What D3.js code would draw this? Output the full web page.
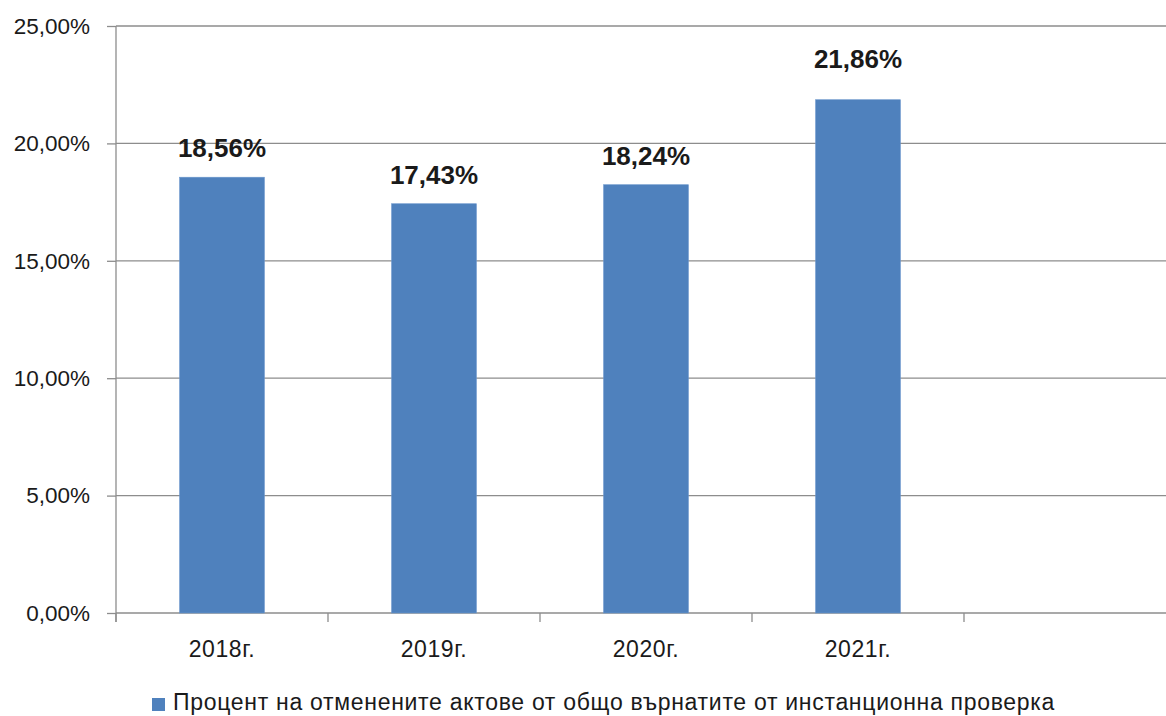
<!DOCTYPE html>
<html>
<head>
<meta charset="utf-8">
<script src="https://cdn.jsdelivr.net/npm/d3@7"></script>
<style>
  html, body { margin: 0; padding: 0; background: #ffffff; }
  svg { display: block; }
  text { font-family: "Liberation Sans", Arial, sans-serif; fill: #1a1a1a; }
</style>
</head>
<body>
<svg id="chart" width="1166" height="716"></svg>
<script>
// ---- data ----
const categories = ["2018г.", "2019г.", "2020г.", "2021г."];
const values = [0.1856, 0.1743, 0.1824, 0.2186];
const yTicks = [0, 0.05, 0.10, 0.15, 0.20, 0.25];
const seriesName = "Процент на отменените актове от общо върнатите от инстанционна проверка";

// ---- drawing ----
(function () {
const svg = d3.select("#chart");
const W = 1166, H = 716;
const pLeft = 116, pRight = 1176, pTop = 26, pBottom = 613;

const bg = d3.formatLocale({ decimal: ",", thousands: " ", grouping: [3], currency: ["", " лв."] });
const pct = bg.format(".2%");

// five slots: four years plus an empty one at the end
const slots = categories.concat([""]);
const xSlot = d3.scaleBand().domain(slots).range([pLeft, pRight]).paddingInner(0).paddingOuter(0);
const xBar = d3.scaleBand().domain(slots).range([pLeft, pRight]).paddingInner(0.6).paddingOuter(0.3);
const y = d3.scaleLinear().domain([0, 0.25]).range([pBottom, pTop]);

const gridColor = "#8d8d8d";

// gridlines
svg.append("g").selectAll("line").data(yTicks).join("line")
  .attr("x1", pLeft).attr("x2", W)
  .attr("y1", d => y(d)).attr("y2", d => y(d))
  .attr("stroke", gridColor).attr("stroke-width", 1.3);

// y axis (ticks + labels)
const yAxis = d3.axisLeft(y).tickValues(yTicks).tickSize(9).tickPadding(17).tickFormat(pct);
const gy = svg.append("g").attr("transform", `translate(${pLeft},0)`).call(yAxis);
gy.select(".domain").remove();
gy.selectAll(".tick line").attr("stroke", gridColor).attr("stroke-width", 1.3);
gy.selectAll(".tick text").attr("font-size", 22.5).attr("font-family", "Liberation Sans, Arial, sans-serif").attr("fill", "#1a1a1a");

// vertical axis line
svg.append("line").attr("x1", pLeft).attr("x2", pLeft).attr("y1", pTop).attr("y2", pBottom + 9)
  .attr("stroke", gridColor).attr("stroke-width", 1.3);

// category tick marks at slot boundaries
const boundaries = slots.map(s => xSlot(s)).concat([pRight]);
svg.append("g").selectAll("line").data(boundaries).join("line")
  .attr("x1", d => d).attr("x2", d => d)
  .attr("y1", pBottom).attr("y2", pBottom + 9)
  .attr("stroke", gridColor).attr("stroke-width", 1.3);

// category labels
svg.append("g").selectAll("text").data(categories).join("text")
  .attr("x", d => xSlot(d) + xSlot.bandwidth() / 2)
  .attr("y", 657)
  .attr("text-anchor", "middle")
  .attr("font-size", 23)
  .attr("letter-spacing", 0.6)
  .text(d => d);

// bars
const data = categories.map((c, i) => ({ c, v: values[i] }));
svg.append("g").selectAll("rect").data(data).join("rect")
  .attr("x", d => xBar(d.c))
  .attr("width", xBar.bandwidth())
  .attr("y", d => y(d.v))
  .attr("height", d => y(0) - y(d.v))
  .attr("fill", "#4F81BD")
  .attr("stroke", "#6a96cc").attr("stroke-width", 0.6);

// data labels (last label sits a little higher in the original)
const labelGap = { "2021г.": 32 };
svg.append("g").selectAll("text").data(data).join("text")
  .attr("x", d => xBar(d.c) + xBar.bandwidth() / 2)
  .attr("y", d => y(d.v) - (labelGap[d.c] || 20))
  .attr("text-anchor", "middle")
  .attr("font-size", 26)
  .attr("font-weight", "bold")
  .attr("fill", "#111")
  .text(d => pct(d.v));

// legend
const lg = svg.append("g");
lg.append("rect").attr("x", 152).attr("y", 698).attr("width", 13).attr("height", 13).attr("fill", "#4F81BD");
lg.append("text").attr("x", 173).attr("y", 710).attr("font-size", 23)
  .attr("letter-spacing", 0.7).text(seriesName);
})();
</script>
</body>
</html>
